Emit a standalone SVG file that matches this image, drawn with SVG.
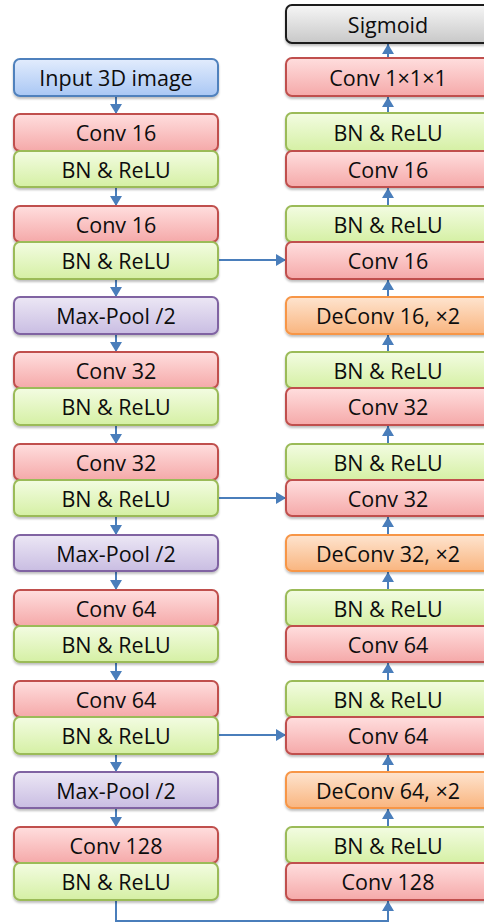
<svg xmlns="http://www.w3.org/2000/svg" width="484" height="923" viewBox="0 0 484 923">
  <defs>
    <linearGradient id="gRed" x1="0" y1="0" x2="0" y2="1">
      <stop offset="0" stop-color="#ffdede"/>
      <stop offset="1" stop-color="#f5a9a9"/>
    </linearGradient>
    <linearGradient id="gGreen" x1="0" y1="0" x2="0" y2="1">
      <stop offset="0" stop-color="#f3fce2"/>
      <stop offset="1" stop-color="#d5f0a4"/>
    </linearGradient>
    <linearGradient id="gBlue" x1="0" y1="0" x2="0" y2="1">
      <stop offset="0" stop-color="#e2ecfd"/>
      <stop offset="1" stop-color="#a9c7f4"/>
    </linearGradient>
    <linearGradient id="gPurple" x1="0" y1="0" x2="0" y2="1">
      <stop offset="0" stop-color="#ece7f5"/>
      <stop offset="1" stop-color="#c9bde2"/>
    </linearGradient>
    <linearGradient id="gOrange" x1="0" y1="0" x2="0" y2="1">
      <stop offset="0" stop-color="#fee4cf"/>
      <stop offset="1" stop-color="#f9b57f"/>
    </linearGradient>
    <linearGradient id="gGray" x1="0" y1="0" x2="0" y2="1">
      <stop offset="0" stop-color="#f6f6f6"/>
      <stop offset="1" stop-color="#c8c8c8"/>
    </linearGradient>
    <filter id="shadow" x="-5%" y="-20%" width="110%" height="150%">
      <feDropShadow dx="0" dy="2" stdDeviation="1.2" flood-color="#000" flood-opacity="0.25"/>
    </filter>
    <marker id="arrow" viewBox="0 0 10 12" refX="10" refY="6" markerWidth="10" markerHeight="12" markerUnits="userSpaceOnUse" orient="auto">
      <path d="M0,0 L10,6 L0,12 Z" fill="#4a7ebb"/>
    </marker>
  </defs>
  <style>
    rect { stroke-width: 2; filter: url(#shadow); }
    .red { fill: url(#gRed); stroke: #c0504d; }
    .green { fill: url(#gGreen); stroke: #9bbb59; }
    .blue { fill: url(#gBlue); stroke: #4f81bd; }
    .purple { fill: url(#gPurple); stroke: #8064a2; }
    .orange { fill: url(#gOrange); stroke: #f79646; }
    .gray { fill: url(#gGray); stroke: #1a1a1a; }
    text { font-family: "Open Sans", "Noto Sans", sans-serif; font-size: 21.5px; fill: #0d0d0d; text-anchor: middle; }
    .conn { stroke: #4a7ebb; stroke-width: 2; fill: none; marker-end: url(#arrow); }
  </style>

  <!-- connectors -->
  <g id="connectors">
    <!-- encoder, downward -->
    <line class="conn" x1="116" y1="97" x2="116" y2="114"/>
    <line class="conn" x1="116" y1="188" x2="116" y2="206"/>
    <line class="conn" x1="116" y1="280" x2="116" y2="297"/>
    <line class="conn" x1="116" y1="335" x2="116" y2="352"/>
    <line class="conn" x1="116" y1="426" x2="116" y2="444"/>
    <line class="conn" x1="116" y1="517" x2="116" y2="535"/>
    <line class="conn" x1="116" y1="572" x2="116" y2="590"/>
    <line class="conn" x1="116" y1="663" x2="116" y2="681"/>
    <line class="conn" x1="116" y1="755" x2="116" y2="772"/>
    <line class="conn" x1="116" y1="809" x2="116" y2="827"/>
    <!-- decoder, upward -->
    <line class="conn" x1="388" y1="58" x2="388" y2="44"/>
    <line class="conn" x1="388" y1="113" x2="388" y2="97"/>
    <line class="conn" x1="388" y1="206" x2="388" y2="188"/>
    <line class="conn" x1="388" y1="297" x2="388" y2="280"/>
    <line class="conn" x1="388" y1="352" x2="388" y2="335"/>
    <line class="conn" x1="388" y1="444" x2="388" y2="426"/>
    <line class="conn" x1="388" y1="535" x2="388" y2="517"/>
    <line class="conn" x1="388" y1="590" x2="388" y2="572"/>
    <line class="conn" x1="388" y1="681" x2="388" y2="663"/>
    <line class="conn" x1="388" y1="772" x2="388" y2="755"/>
    <line class="conn" x1="388" y1="827" x2="388" y2="809"/>
    <!-- skip connections -->
    <line class="conn" x1="219" y1="260" x2="286" y2="260"/>
    <line class="conn" x1="219" y1="498" x2="286" y2="498"/>
    <line class="conn" x1="219" y1="735" x2="286" y2="735"/>
    <!-- bottleneck -->
    <polyline class="conn" points="116,901 116,921 388,921 388,901"/>
  </g>

  <!-- encoder column -->
  <g id="input"><rect class="blue" x="14" y="59" width="204" height="37" rx="6"/><text x="116" y="86">Input 3D image</text></g>
  <g id="enc-conv16-a"><rect class="red" x="14" y="114" width="204" height="37" rx="6"/><text x="116" y="141">Conv 16</text></g>
  <g id="enc-bn16-a"><rect class="green" x="14" y="151" width="204" height="36" rx="6"/><text x="116" y="178">BN &amp; ReLU</text></g>
  <g id="enc-conv16-b"><rect class="red" x="14" y="206" width="204" height="36" rx="6"/><text x="116" y="233">Conv 16</text></g>
  <g id="enc-bn16-b"><rect class="green" x="14" y="242" width="204" height="37" rx="6"/><text x="116" y="269">BN &amp; ReLU</text></g>
  <g id="pool-1"><rect class="purple" x="14" y="297" width="204" height="37" rx="6"/><text x="116" y="324">Max-Pool /2</text></g>
  <g id="enc-conv32-a"><rect class="red" x="14" y="352" width="204" height="36" rx="6"/><text x="116" y="379">Conv 32</text></g>
  <g id="enc-bn32-a"><rect class="green" x="14" y="388" width="204" height="37" rx="6"/><text x="116" y="415">BN &amp; ReLU</text></g>
  <g id="enc-conv32-b"><rect class="red" x="14" y="444" width="204" height="36" rx="6"/><text x="116" y="471">Conv 32</text></g>
  <g id="enc-bn32-b"><rect class="green" x="14" y="480" width="204" height="36" rx="6"/><text x="116" y="507">BN &amp; ReLU</text></g>
  <g id="pool-2"><rect class="purple" x="14" y="535" width="204" height="36" rx="6"/><text x="116" y="562">Max-Pool /2</text></g>
  <g id="enc-conv64-a"><rect class="red" x="14" y="590" width="204" height="36" rx="6"/><text x="116" y="617">Conv 64</text></g>
  <g id="enc-bn64-a"><rect class="green" x="14" y="626" width="204" height="36" rx="6"/><text x="116" y="653">BN &amp; ReLU</text></g>
  <g id="enc-conv64-b"><rect class="red" x="14" y="681" width="204" height="36" rx="6"/><text x="116" y="708">Conv 64</text></g>
  <g id="enc-bn64-b"><rect class="green" x="14" y="717" width="204" height="37" rx="6"/><text x="116" y="744">BN &amp; ReLU</text></g>
  <g id="pool-3"><rect class="purple" x="14" y="772" width="204" height="36" rx="6"/><text x="116" y="799">Max-Pool /2</text></g>
  <g id="enc-conv128"><rect class="red" x="14" y="827" width="204" height="36" rx="6"/><text x="116" y="854">Conv 128</text></g>
  <g id="enc-bn128"><rect class="green" x="14" y="863" width="204" height="37" rx="6"/><text x="116" y="890">BN &amp; ReLU</text></g>

  <!-- decoder column -->
  <g id="sigmoid"><rect class="gray" x="286" y="5" width="204" height="38" rx="6"/><text x="388" y="33">Sigmoid</text></g>
  <g id="conv-out"><rect class="red" x="286" y="58" width="204" height="38" rx="6"/><text x="388" y="86">Conv 1×1×1</text></g>
  <g id="dec-bn16-b"><rect class="green" x="286" y="113" width="204" height="38" rx="6"/><text x="388" y="141">BN &amp; ReLU</text></g>
  <g id="dec-conv16-b"><rect class="red" x="286" y="151" width="204" height="36" rx="6"/><text x="388" y="178">Conv 16</text></g>
  <g id="dec-bn16-a"><rect class="green" x="286" y="206" width="204" height="36" rx="6"/><text x="388" y="233">BN &amp; ReLU</text></g>
  <g id="dec-conv16-a"><rect class="red" x="286" y="242" width="204" height="37" rx="6"/><text x="388" y="269">Conv 16</text></g>
  <g id="deconv16"><rect class="orange" x="286" y="297" width="204" height="37" rx="6"/><text x="388" y="324">DeConv 16, ×2</text></g>
  <g id="dec-bn32-b"><rect class="green" x="286" y="352" width="204" height="36" rx="6"/><text x="388" y="379">BN &amp; ReLU</text></g>
  <g id="dec-conv32-b"><rect class="red" x="286" y="388" width="204" height="37" rx="6"/><text x="388" y="415">Conv 32</text></g>
  <g id="dec-bn32-a"><rect class="green" x="286" y="444" width="204" height="36" rx="6"/><text x="388" y="471">BN &amp; ReLU</text></g>
  <g id="dec-conv32-a"><rect class="red" x="286" y="480" width="204" height="36" rx="6"/><text x="388" y="507">Conv 32</text></g>
  <g id="deconv32"><rect class="orange" x="286" y="535" width="204" height="36" rx="6"/><text x="388" y="562">DeConv 32, ×2</text></g>
  <g id="dec-bn64-b"><rect class="green" x="286" y="590" width="204" height="36" rx="6"/><text x="388" y="617">BN &amp; ReLU</text></g>
  <g id="dec-conv64-b"><rect class="red" x="286" y="626" width="204" height="36" rx="6"/><text x="388" y="653">Conv 64</text></g>
  <g id="dec-bn64-a"><rect class="green" x="286" y="681" width="204" height="36" rx="6"/><text x="388" y="708">BN &amp; ReLU</text></g>
  <g id="dec-conv64-a"><rect class="red" x="286" y="717" width="204" height="37" rx="6"/><text x="388" y="744">Conv 64</text></g>
  <g id="deconv64"><rect class="orange" x="286" y="772" width="204" height="36" rx="6"/><text x="388" y="799">DeConv 64, ×2</text></g>
  <g id="dec-bn128"><rect class="green" x="286" y="827" width="204" height="36" rx="6"/><text x="388" y="854">BN &amp; ReLU</text></g>
  <g id="dec-conv128"><rect class="red" x="286" y="863" width="204" height="37" rx="6"/><text x="388" y="890">Conv 128</text></g>
</svg>
